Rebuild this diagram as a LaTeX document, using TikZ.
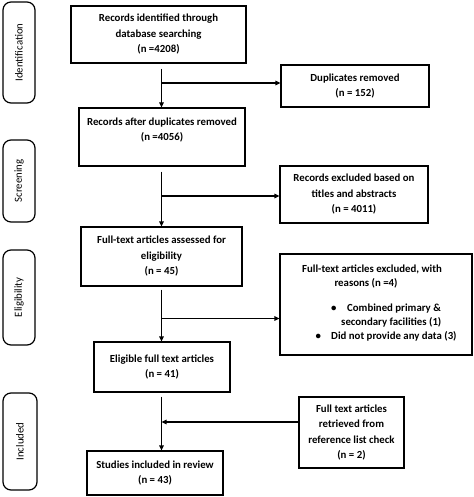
\documentclass[tikz,border=0pt]{standalone}
\usepackage{fontspec}
\setmainfont{Carlito}
\usetikzlibrary{arrows.meta}
\begin{document}
\begin{tikzpicture}[x=1pt,y=-1pt,
  box/.style={draw, line width=1.2pt, rectangle, align=center, inner sep=0pt,
    font=\fontsize{10.8}{15.5}\selectfont\bfseries},
  side/.style={draw, line width=1.2pt, rectangle, rounded corners=8pt, inner sep=0pt},
  sidetext/.style={rotate=90, font=\fontsize{10.8}{12}\selectfont},
  plain/.style={inner sep=0pt, anchor=base west, font=\fontsize{10.8}{12}\selectfont\bfseries},
  arr/.style={line width=1.2pt, -{Triangle[length=5pt,width=4.5pt]}}]
\useasboundingbox (0,0) rectangle (473,497);
% side labels
\node[side, minimum width=32pt, minimum height=101pt] (sid) at (19,52.5) {};
\node[sidetext] (tid) at (sid.center) {Identification};
\node[side, minimum width=32pt, minimum height=82pt] (sscr) at (19,181) {};
\node[sidetext] (tscr) at (sscr.center) {Screening};
\node[side, minimum width=32pt, minimum height=95pt] (sel) at (19,297.5) {};
\node[sidetext] (tel) at (sel.center) {Eligibility};
\node[side, minimum width=34pt, minimum height=97pt] (sin) at (20,441.5) {};
\node[sidetext] (tin) at (sin.center) {Included};
% main boxes
\node[box, minimum width=175pt, minimum height=57pt] (b1) at (158.5,34.5)
  {Records identified through\\database searching\\(n =4208)};
\node[box, minimum width=148pt, minimum height=42pt] (dup) at (355,86)
  {Duplicates removed\\(n = 152)};
\node[box, minimum width=166pt, minimum height=58pt] (b2) at (162,137)
  {Records after duplicates removed\\(n =4056)\\\mbox{}};
\node[box, minimum width=148pt, minimum height=57pt] (rex) at (354,194.5)
  {Records excluded based on\\titles and abstracts\\(n = 4011)};
\node[box, minimum width=161pt, minimum height=59pt] (b3) at (161.5,256.5)
  {Full-text articles assessed for\\eligibility\\(n = 45)};
\node[box, minimum width=192pt, minimum height=101pt] (exc) at (376,304.5) {};
\node[plain, anchor=base] (e1) at (372,272) {Full-text articles excluded, with};
\node[plain, anchor=base] (e2) at (366,286) {reasons (n =4)};
\node[plain] (e3b) at (331,311) {•};
\node[plain] (e3) at (347,311) {Combined primary \&};
\node[plain] (e4) at (341,325) {secondary facilities (1)};
\node[plain] (e5b) at (315.5,339) {•};
\node[plain] (e5) at (331,339) {Did not provide any data (3)};
\node[box, minimum width=136pt, minimum height=50pt] (b4) at (162,367)
  {Eligible full text articles\\(n = 41)};
\node[box, minimum width=105pt, minimum height=71pt] (ret) at (351.5,432.5)
  {Full text articles\\retrieved from\\reference list check\\(n = 2)};
\node[box, minimum width=136pt, minimum height=44pt] (b5) at (155,473)
  {Studies included in review\\(n = 43)};
% junctions
\coordinate (j1) at (161.5,83);
\coordinate (j2) at (161.5,196);
\coordinate (j3) at (161.5,318.5);
\coordinate (j4) at (161.5,422);
% connectors
\draw[arr, shorten <=5pt] (b1.south -| j1) -- (b2.north -| j1);
\draw[arr] (j1) -- (j1 -| dup.west);
\draw[arr, shorten <=5pt] (b2.south -| j2) -- (b3.north -| j2);
\draw[arr] (j2) -- (j2 -| rex.west);
\draw[arr, shorten <=3pt] (b3.south -| j3) -- (b4.north -| j3);
\draw[arr] (j3) -- (j3 -| exc.west);
\draw[arr, shorten <=4pt] (b4.south -| j4) -- (b5.north -| j4);
\draw[arr] (ret.west |- j4) -- (j4);
\end{tikzpicture}
\end{document}
